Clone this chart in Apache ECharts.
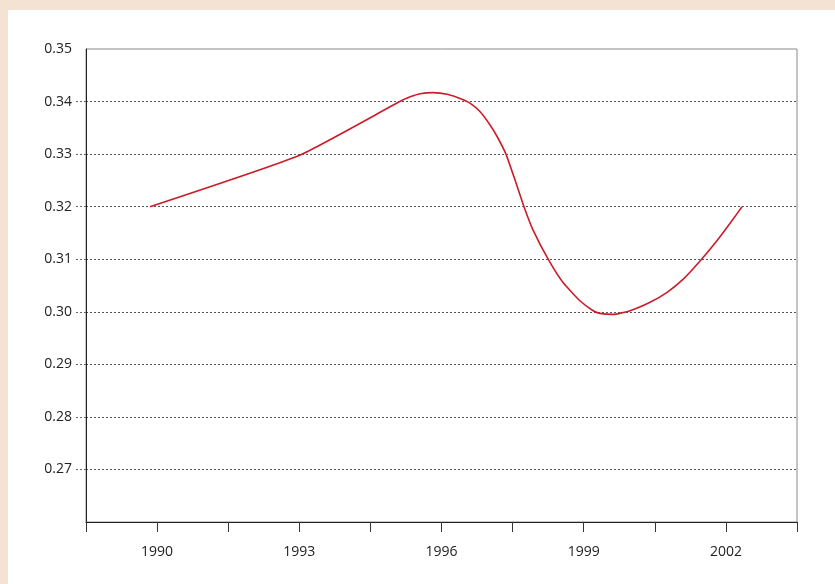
<!DOCTYPE html>
<html>
<head>
<meta charset="utf-8">
<script src="https://cdn.jsdelivr.net/npm/echarts@6/dist/echarts.min.js"></script>
<style>
  html, body { margin: 0; padding: 0; background: #F4E3D3; }
  #wrap { position: absolute; left: 8px; top: 10px; width: 827px; height: 574px; background: #ffffff; }
  #chart { width: 827px; height: 574px; }
</style>
</head>
<body>
<div id="wrap"><div id="chart"></div></div>
<script>
// Data
var years = [1989.85, 1993.01, 1995.12, 1995.34, 1995.55, 1995.82, 1996.12, 1996.39, 1996.60, 1996.81,
             1997.02, 1997.17, 1997.36, 1997.55, 1997.74, 1997.93, 1998.25, 1998.56, 1998.92, 1999.20,
             1999.34, 1999.62, 1999.98, 2000.40, 2000.76, 2001.10, 2001.45, 2001.81, 2002.15, 2002.34];
var values = [0.3200, 0.3298, 0.3400, 0.3409, 0.3415, 0.3417, 0.3414, 0.3406, 0.3397, 0.3381,
              0.3356, 0.3334, 0.3300, 0.3251, 0.3200, 0.3156, 0.3100, 0.3056, 0.3021, 0.3002,
              0.2997, 0.2995, 0.3002, 0.3018, 0.3037, 0.3062, 0.3096, 0.3135, 0.3176, 0.3200];
var xTickValues = [1988.5, 1990, 1991.5, 1993, 1994.5, 1996, 1997.5, 1999, 2000.5, 2002, 2003.5];
var xLabelValues = [1990, 1993, 1996, 1999, 2002];
var yLabelValues = [0.27, 0.28, 0.29, 0.30, 0.31, 0.32, 0.33, 0.34, 0.35];
var yTickValues = [0.27, 0.28, 0.29, 0.30, 0.31, 0.32, 0.33, 0.34];

var points = years.map(function (y, i) { return [y, values[i]]; });

var chart = echarts.init(document.getElementById('chart'), null, { renderer: 'canvas' });
chart.setOption({
  animation: false,
  backgroundColor: '#ffffff',
  grid: {
    left: 78, top: 39, right: 38, bottom: 62,
    show: true, borderColor: '#8a8a8a', borderWidth: 1, backgroundColor: 'transparent'
  },
  xAxis: {
    type: 'value',
    min: 1988.5, max: 2003.5,
    axisLine: { show: true, lineStyle: { color: '#222222', width: 1 } },
    axisTick: { show: true, length: 10, customValues: xTickValues, lineStyle: { color: '#333333', width: 1 } },
    axisLabel: {
      show: true, customValues: xLabelValues, margin: 23,
      color: '#222222', fontFamily: 'Open Sans', fontSize: 14,
      formatter: function (v) { return String(Math.round(v)); }
    },
    splitLine: { show: false }
  },
  yAxis: {
    type: 'value',
    min: 0.26, max: 0.35, interval: 0.01,
    axisLine: { show: true, lineStyle: { color: '#222222', width: 1 } },
    axisTick: { show: true, length: 10, customValues: yTickValues, lineStyle: { color: '#666666', width: 1, type: [2, 2] } },
    axisLabel: {
      show: true, customValues: yLabelValues, margin: 14,
      color: '#222222', fontFamily: 'Open Sans', fontSize: 14,
      formatter: function (v) { return v.toFixed(2); }
    },
    splitLine: { show: true, lineStyle: { color: '#555555', width: 1, type: [2, 2] } }
  },
  series: [{
    type: 'line',
    data: points,
    smooth: 0.15,
    showSymbol: false,
    symbol: 'none',
    lineStyle: { color: '#CC1C2A', width: 1.6 }
  }]
});
</script>
</body>
</html>
